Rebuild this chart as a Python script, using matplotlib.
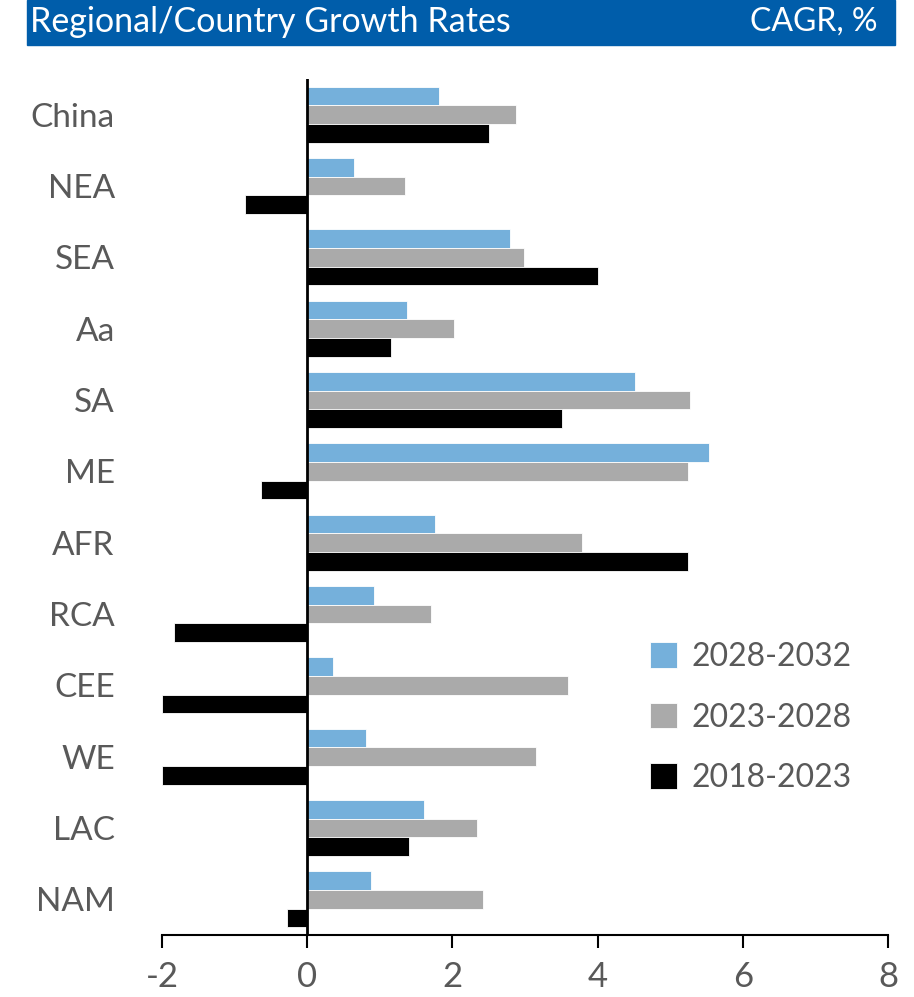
import numpy as np
import matplotlib
matplotlib.use("Agg")
import matplotlib.pyplot as plt
from matplotlib.patches import Rectangle

regions = ["China", "NEA", "SEA", "Aa", "SA", "ME", "AFR", "RCA", "CEE", "WE", "LAC", "NAM"]
cagr_2028_2032 = [1.81, 0.64, 2.80, 1.37, 4.52, 5.54, 1.76, 0.92, 0.36, 0.81, 1.61, 0.88]
cagr_2023_2028 = [2.87, 1.35, 2.99, 2.02, 5.27, 5.25, 3.78, 1.71, 3.59, 3.15, 2.34, 2.42]
cagr_2018_2023 = [2.50, -0.86, 4.00, 1.15, 3.51, -0.64, 5.25, -1.84, -2.00, -2.00, 1.40, -0.28]
periods = ["2028-2032", "2023-2028", "2018-2023"]
colors = ["#75B0DB", "#AAAAAA", "#000000"]

plt.rcParams["font.family"] = ["Lato", "DejaVu Sans"]
text_grey = "#595959"

fig = plt.figure(figsize=(9.14, 9.97), dpi=100)
ax = fig.add_axes([162 / 914, 62 / 997, 726 / 914, 856 / 997])

y = np.arange(len(regions))
h = 0.262
for k, (vals, c, lab) in enumerate(zip([cagr_2028_2032, cagr_2023_2028, cagr_2018_2023], colors, periods)):
    ax.barh(y + (k - 1) * h, vals, height=h, color=c, label=lab, edgecolor="white", linewidth=0.6)

ax.set_xlim(-2, 8)
ax.set_ylim(len(regions) - 0.5, -0.5)
ax.set_xticks(np.arange(-2, 9, 2))
ax.set_xticklabels([str(v) for v in range(-2, 9, 2)])
ax.axvline(0, color="black", lw=2, zorder=5)

for s in ["top", "right", "left"]:
    ax.spines[s].set_visible(False)
ax.spines["bottom"].set_linewidth(1.5)
ax.tick_params(axis="x", direction="out", length=9, width=1.5, pad=10,
               labelsize=25, labelcolor=text_grey)
ax.set_yticks(y)
ax.set_yticklabels(regions)
ax.tick_params(axis="y", length=0, pad=34, labelsize=24, labelcolor=text_grey)

leg = ax.legend(loc="upper left", bbox_to_anchor=(0.655, 0.357), frameon=False,
                fontsize=23, handlelength=0.85, handleheight=0.85, handletextpad=0.45,
                labelspacing=0.95, borderaxespad=0)
for t in leg.get_texts():
    t.set_color(text_grey)

# title banner
fig.patches.append(Rectangle((27 / 914, 1 - 45 / 997), 868 / 914, 45 / 997,
                             transform=fig.transFigure, color="#005DAA", zorder=0))
fig.text(30 / 914, 1 - 22 / 997, "Regional/Country Growth Rates", color="white",
         fontsize=24.5, va="center", ha="left")
fig.text(878 / 914, 1 - 22 / 997, "CAGR, %", color="white",
         fontsize=23, va="center", ha="right")

fig.savefig("out.png", dpi=100)
